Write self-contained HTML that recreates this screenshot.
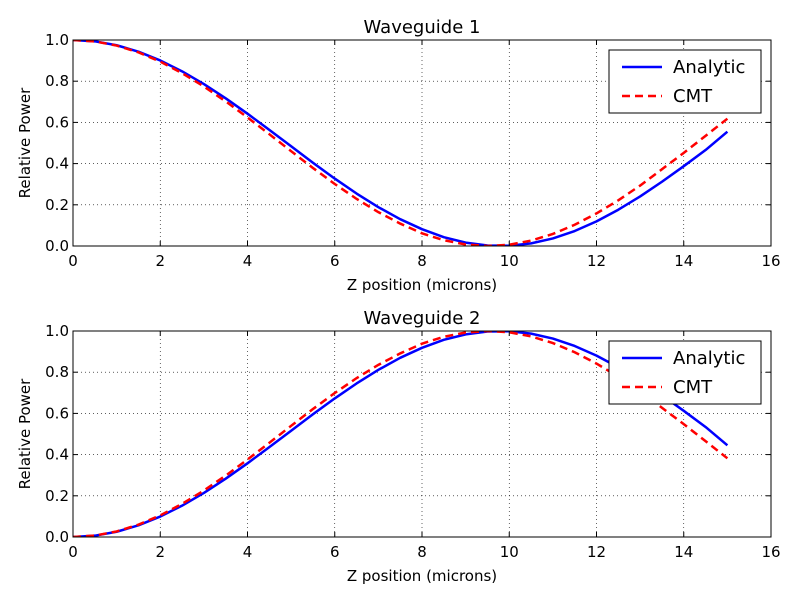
<!DOCTYPE html>
<html><head><meta charset="utf-8"><style>
html,body{margin:0;padding:0;background:#fff;}
svg{display:block;font-family:"DejaVu Sans","Liberation Sans",sans-serif;}
</style></head><body>
<svg id="chart" width="800" height="600" viewBox="0 0 800 600"></svg>
<script>
const zValues = [0,0.5,1,1.5,2,2.5,3,3.5,4,4.5,5,5.5,6,6.5,7,7.5,8,8.5,9,9.5,10,10.5,11,11.5,12,12.5,13,13.5,14,14.5,15];
const wg1Analytic = [1,0.9936,0.9745,0.9433,0.9007,0.8478,0.7860,0.7169,0.6423,0.5639,0.4840,0.4044,0.3273,0.2547,0.1885,0.1302,0.0816,0.0428,0.0163,0.0023,0.0010,0.0126,0.0366,0.0727,0.1194,0.1761,0.2405,0.3119,0.3875,0.4659,0.5550];
const wg1CMT = [1,0.9932,0.9730,0.9400,0.8950,0.8393,0.7743,0.7020,0.6241,0.5428,0.4603,0.3789,0.3011,0.2288,0.1642,0.1089,0.0616,0.0280,0.0073,0.0000,0.0063,0.0260,0.0586,0.1032,0.1582,0.2220,0.2933,0.3726,0.4521,0.5347,0.6181];
const wg2Analytic = [0,0.0064,0.0255,0.0567,0.0993,0.1522,0.2140,0.2831,0.3577,0.4361,0.5160,0.5956,0.6727,0.7453,0.8115,0.8698,0.9184,0.9572,0.9837,0.9977,0.9990,0.9874,0.9634,0.9273,0.8806,0.8239,0.7595,0.6881,0.6125,0.5341,0.4450];
const wg2CMT = [0,0.0068,0.0270,0.0600,0.1050,0.1607,0.2257,0.2980,0.3759,0.4572,0.5397,0.6211,0.6989,0.7712,0.8358,0.8911,0.9384,0.9720,0.9927,1.0000,0.9937,0.9740,0.9414,0.8968,0.8418,0.7780,0.7067,0.6274,0.5479,0.4653,0.3819];
const xTicks = [0,2,4,6,8,10,12,14,16];
const yTicks = [0.0,0.2,0.4,0.6,0.8,1.0];

const NS = "http://www.w3.org/2000/svg";
const svg = document.getElementById('chart');
function mk(tag, attrs, parent, text){
  const e = document.createElementNS(NS, tag);
  for (const k in attrs) e.setAttribute(k, attrs[k]);
  if (text !== undefined) e.textContent = text;
  (parent||svg).appendChild(e);
  return e;
}
const L = 73, R = 771;
const xScale = v => L + (v - 0) / 16 * (R - L);

function panel(top, bottom, title, an, cmt, id){
  const g = mk('g', {});
  
  
  const yScale = v => bottom - v * (bottom - top);
  xTicks.forEach(t => {
    const l = mk('line', {x1:xScale(t), x2:xScale(t), y1:top, y2:bottom, stroke:'#000', 'stroke-width':0.6, 'stroke-dasharray':'1,3'}, g);
    
    
  });
  yTicks.forEach(t => {
    const l = mk('line', {x1:L, x2:R, y1:yScale(t), y2:yScale(t), stroke:'#000', 'stroke-width':0.6, 'stroke-dasharray':'1,3'}, g);
    
    
  });
  const clip = mk('clipPath', {id:'clip-'+id}, g);
  mk('rect', {x:L, y:top, width:R-L, height:bottom-top}, clip);
  const pts = arr => arr.map((v,i) => xScale(zValues[i]).toFixed(2) + ',' + yScale(v).toFixed(2)).join(' ');
  const p1 = mk('polyline', {points:pts(an), fill:'none', stroke:'#0000ff', 'stroke-width':2.5, 'clip-path':'url(#clip-'+id+')', 'stroke-linejoin':'round'}, g);
  
  
  const p2 = mk('polyline', {points:pts(cmt), fill:'none', stroke:'#ff0000', 'stroke-width':2.5, 'stroke-dasharray':'8,5', 'clip-path':'url(#clip-'+id+')'}, g);
  
  
  const fr = mk('rect', {x:L, y:top, width:R-L, height:bottom-top, fill:'none', stroke:'#000', 'stroke-width':1}, g);
  
  
  xTicks.forEach(t => {
    const x = xScale(t);
    mk('line', {x1:x, x2:x, y1:bottom, y2:bottom-5, stroke:'#000'}, g);
    mk('line', {x1:x, x2:x, y1:top, y2:top+5, stroke:'#000'}, g);
    const tx = mk('text', {x:x, y:bottom+20, 'font-size':15, 'text-anchor':'middle'}, g, String(t));
    
    
  });
  yTicks.forEach(t => {
    const y = yScale(t);
    mk('line', {x1:L, x2:L+5, y1:y, y2:y, stroke:'#000'}, g);
    mk('line', {x1:R, x2:R-5, y1:y, y2:y, stroke:'#000'}, g);
    const tx = mk('text', {x:L-4, y:y+5, 'font-size':15, 'text-anchor':'end'}, g, t.toFixed(1));
    
    
  });
  const tt = mk('text', {x:(L+R)/2, y:top-7, 'font-size':18, 'text-anchor':'middle'}, g, title);
  
  
  const xl = mk('text', {x:(L+R)/2, y:bottom+44, 'font-size':15, 'text-anchor':'middle'}, g, 'Z position (microns)');
  
  
  const cy = (top+bottom)/2;
  const yl = mk('text', {x:30, y:cy, 'font-size':15, 'text-anchor':'middle', transform:'rotate(-90 30 '+cy+')'}, g, 'Relative Power');
  
  
  const lg = mk('g', {}, g);
  
  
  const ly = top + 10;
  mk('rect', {x:609, y:ly, width:152, height:63, fill:'#fff', stroke:'#000', 'stroke-width':1}, lg);
  mk('line', {x1:622, x2:662, y1:ly+17, y2:ly+17, stroke:'#0000ff', 'stroke-width':2.5}, lg);
  const e1 = mk('text', {x:673, y:ly+23, 'font-size':18}, lg, 'Analytic');
  
  
  mk('line', {x1:622, x2:662, y1:ly+46, y2:ly+46, stroke:'#ff0000', 'stroke-width':2.5, 'stroke-dasharray':'8,5'}, lg);
  const e2 = mk('text', {x:673, y:ly+52, 'font-size':18}, lg, 'CMT');
  
  
}
panel(40, 246, 'Waveguide 1', wg1Analytic, wg1CMT, 'waveguide-1');
panel(331, 537, 'Waveguide 2', wg2Analytic, wg2CMT, 'waveguide-2');
</script>
</body></html>
